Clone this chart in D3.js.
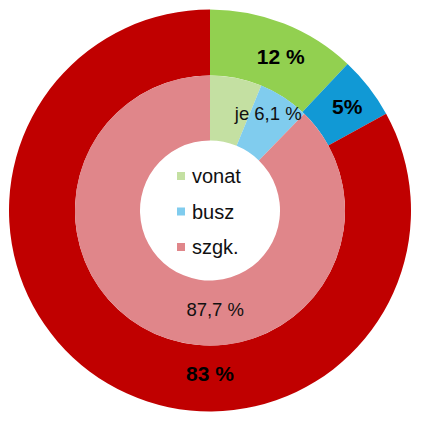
<!DOCTYPE html>
<html>
<head>
<meta charset="utf-8">
<script src="https://cdn.jsdelivr.net/npm/d3@7"></script>
<style>
html,body{margin:0;padding:0;background:#fff;}
svg{display:block;}
text{font-family:"Liberation Sans",Arial,sans-serif;}
</style>
</head>
<body>
<svg id="chart" width="427" height="425"></svg>
<script>
// Data
const categories = ["vonat", "busz", "szgk."];
const outerValues = [12, 5, 83];          // outer ring (%)
const innerValues = [6.2, 6.1, 87.7];     // inner ring (%)
const outerLabels = ["12 %", "5%", "83 %"];
const innerLabels = ["je 6,1 %", "", "87,7 %"];
const outerColors = ["#92d050", "#1199d5", "#c00000"];
const innerColors = ["#c4e0a2", "#80ccee", "#e0868a"];

const svg = d3.select("#chart");
const cx = 210, cy = 210.5;
const rHole = 70, rMid = 135, rOuter = 201;

const g = svg.append("g").attr("transform", `translate(${cx},${cy})`);
const pie = d3.pie().sort(null).value(d => d);

const outerArc = d3.arc().innerRadius(rMid).outerRadius(rOuter);
const innerArc = d3.arc().innerRadius(rHole).outerRadius(rMid);

g.selectAll("path.outer").data(pie(outerValues)).join("path")
  .attr("class", "outer")
  .attr("d", outerArc)
  .attr("fill", (d, i) => outerColors[i]);

g.selectAll("path.inner").data(pie(innerValues)).join("path")
  .attr("class", "inner")
  .attr("d", innerArc)
  .attr("fill", (d, i) => innerColors[i]);

// label placement helper (angle in degrees clockwise from top, radius)
function polar(angleDeg, r) {
  const a = angleDeg * Math.PI / 180;
  return [r * Math.sin(a), -r * Math.cos(a)];
}

// outer labels
const outerPos = [[24.6, 170], [52.9, 172], [180, 162.5]];
outerLabels.forEach((t, i) => {
  const [x, y] = polar(outerPos[i][0], outerPos[i][1]);
  g.append("text")
    .attr("x", x).attr("y", y)
    .attr("text-anchor", "middle")
    .attr("dy", "0.36em")
    .attr("font-size", 21)
    .attr("font-weight", "bold")
    .attr("fill", "#000")
    .text(t);
});

// inner labels
const innerPos = [[31, 113], null, [177, 99]];
innerLabels.forEach((t, i) => {
  if (!t) return;
  const [x, y] = polar(innerPos[i][0], innerPos[i][1]);
  g.append("text")
    .attr("x", x).attr("y", y)
    .attr("text-anchor", "middle")
    .attr("dy", "0.36em")
    .attr("font-size", 18.5)
    .attr("fill", "#111")
    .text(t);
});

// legend inside the hole
const legend = svg.append("g").attr("transform", "translate(177,176)");
categories.forEach((c, i) => {
  const row = legend.append("g").attr("transform", `translate(0,${i * 35.5})`);
  row.append("rect").attr("x", 0).attr("y", -4).attr("width", 8).attr("height", 8)
    .attr("fill", innerColors[i]);
  row.append("text").attr("x", 15).attr("y", 0).attr("dy", "0.36em")
    .attr("font-size", 20).attr("fill", "#111").text(c);
});
</script>
</body>
</html>
